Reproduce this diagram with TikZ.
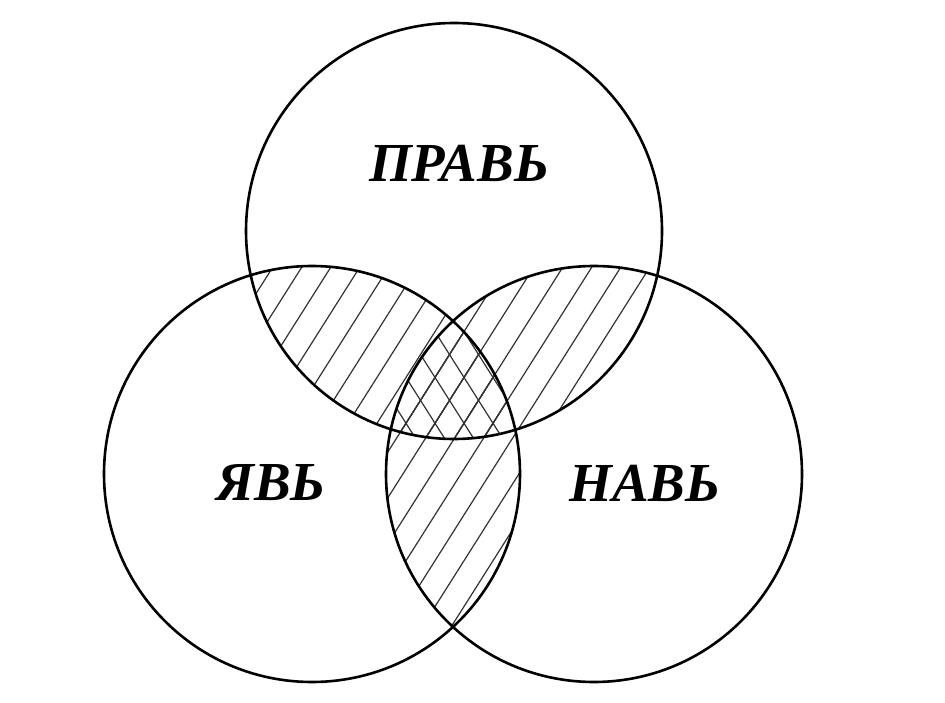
\documentclass[tikz,border=0pt]{standalone}
\usepackage{fontspec}
\setmainfont{Liberation Serif}
\begin{document}
\begin{tikzpicture}[x=1pt,y=-1pt,
  ring/.style={draw=black,line width=2.6pt},
  hatch/.style={draw=black!80,line width=1.2pt},
  label/.style={font=\fontsize{55}{60}\selectfont\bfseries\itshape,inner sep=0pt}]
\useasboundingbox[fill=white] (0,0) rectangle (945,703);
\coordinate (T) at (454,231);
\coordinate (L) at (312,474);
\coordinate (R) at (594,474);
\def\rad{208}
% NE hatch in pairwise lenses
\begin{scope}
  \clip (T) circle (\rad);
  \clip (L) circle (\rad);
  \foreach \k in {-4,...,18} {
    \draw[hatch] ({300+29*\k-420/1.58},690) -- ({300+29*\k+300/1.58},-30);
  }
\end{scope}
\begin{scope}
  \clip (T) circle (\rad);
  \clip (R) circle (\rad);
  \foreach \k in {-4,...,18} {
    \draw[hatch] ({300+29*\k-420/1.58},690) -- ({300+29*\k+300/1.58},-30);
  }
\end{scope}
\begin{scope}
  \clip (L) circle (\rad);
  \clip (R) circle (\rad);
  \foreach \k in {-4,...,18} {
    \draw[hatch] ({300+29*\k-420/1.58},690) -- ({300+29*\k+300/1.58},-30);
  }
\end{scope}
% NW hatch in the triple region
\begin{scope}
  \clip (T) circle (\rad);
  \clip (L) circle (\rad);
  \clip (R) circle (\rad);
  \foreach \k in {-12,...,12} {
    \draw[hatch] ({454+29*\k-300/1.58},-30) -- ({454+29*\k+420/1.58},690);
  }
\end{scope}
% circles
\draw[ring] (T) circle (\rad);
\draw[ring] (L) circle (\rad);
\draw[ring] (R) circle (\rad);
% labels
\node[label] (prav) at (459,163) {ПРАВЬ};
\node[label] (yav) at (271,483) {ЯВЬ};
\node[label] (nav) at (645,483) {НАВЬ};
\end{tikzpicture}
\end{document}
